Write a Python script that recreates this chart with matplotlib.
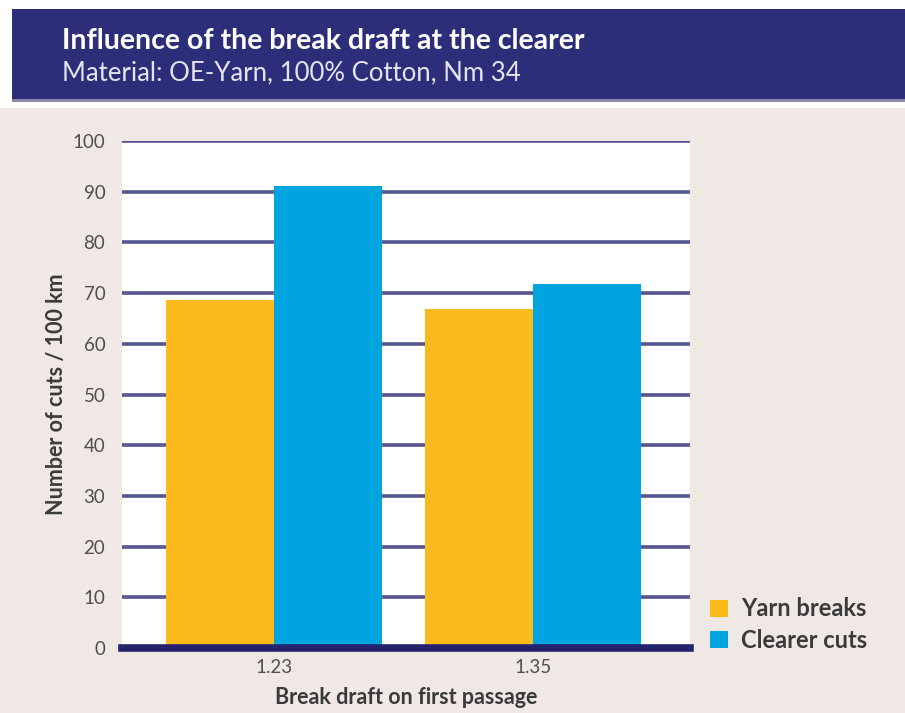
import matplotlib.pyplot as plt
import matplotlib.patches as mpatches
import numpy as np

# data
categories = ["1.23", "1.35"]
yarn_breaks = [68.6, 66.8]
clearer_cuts = [91.1, 71.7]
series_names = ["Yarn breaks", "Clearer cuts"]
y_ticks = [0, 10, 20, 30, 40, 50, 60, 70, 80, 90, 100]

bg = "#efe8e5"
navy = "#2d2e7a"
grid_col = "#56558f"
yellow = "#fbbb1c"
blue = "#00a4df"
txt = "#3a3a3a"

plt.rcParams['font.family'] = ['Lato', 'DejaVu Sans']

fig = plt.figure(figsize=(9.05, 7.13), dpi=100)
fig.patch.set_facecolor(bg)

# title band
fig.add_artist(mpatches.Rectangle((0, 0), 1, 1, transform=fig.transFigure,
                                  facecolor="white", zorder=-3))
fig.add_artist(mpatches.Rectangle((0, 0), 1, 605 / 713, transform=fig.transFigure,
                                  facecolor=bg, zorder=-2))
fig.add_artist(mpatches.Rectangle((12 / 905, 613 / 713), 1, 91 / 713,
                                  transform=fig.transFigure, facecolor=navy, zorder=-1))
fig.add_artist(mpatches.Rectangle((12 / 905, 611 / 713), 1, 3 / 713,
                                  transform=fig.transFigure, facecolor="#8c8aa6", zorder=-1))
fig.text(62 / 905, 1 - 41 / 713, "Influence of the break draft at the clearer",
         color="white", fontsize=20.5, fontweight="bold", va="center", ha="left")
fig.text(62 / 905, 1 - 73 / 713, "Material: OE-Yarn, 100% Cotton, Nm 34",
         color="#e4e4f2", fontsize=18.5, va="center", ha="left")

ax = fig.add_axes([122 / 905, 65 / 713, 568 / 905, 507 / 713])
ax.set_facecolor("white")

x = np.arange(len(categories))
w = 0.417
ax.bar(x - w / 2, yarn_breaks, w, color=yellow, zorder=3, label=series_names[0])
ax.bar(x + w / 2, clearer_cuts, w, color=blue, zorder=3, label=series_names[1])

ax.set_xlim(-0.587, 1.606)
ax.set_ylim(0, 100)
ax.set_yticks(y_ticks)
for t in y_ticks[1:]:
    ax.axhline(t, color=grid_col, lw=2.6, zorder=2)
ax.axhline(0, color="#25236e", lw=5.5, zorder=4, clip_on=False)

for s in ax.spines.values():
    s.set_visible(False)
ax.tick_params(axis="both", length=0, colors="#4f4f4f", labelsize=13.5)
ax.tick_params(axis="y", pad=12)
ax.tick_params(axis="x", pad=8)
ax.set_xticks(x)
ax.set_xticklabels(categories)

ax.set_ylabel("Number of cuts / 100 km", fontsize=15.5, fontweight="bold",
              color=txt, labelpad=4)
ax.set_xlabel("Break draft on first passage", fontsize=15.5, fontweight="bold",
              color=txt, labelpad=8)

leg = fig.legend(loc="lower left", bbox_to_anchor=(689 / 905, 40 / 713),
                 frameon=False, fontsize=17, handlelength=0.75, handleheight=0.75,
                 handletextpad=0.55, labelspacing=0.35)
for t in leg.get_texts():
    t.set_fontweight("bold")
    t.set_color(txt)

fig.savefig("out.png", dpi=100, facecolor=fig.get_facecolor())
